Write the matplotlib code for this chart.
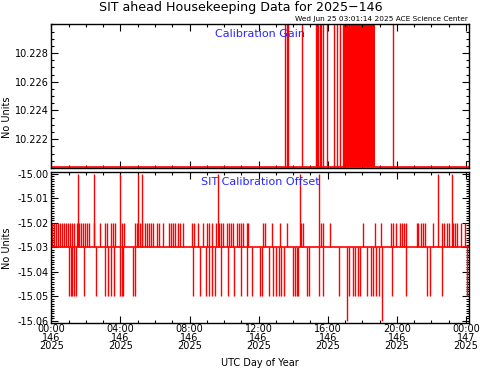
import matplotlib
matplotlib.use('Agg')
import matplotlib.pyplot as plt
from matplotlib.ticker import MultipleLocator, FixedLocator

plt.rcParams['font.family'] = ['DejaVu Sans']

# hours of day 146 (UTC)
tick_hours = [0, 4, 8, 12, 16, 20, 24]
tick_labels = ['00:00\n146\n2025', '04:00\n146\n2025', '08:00\n146\n2025',
               '12:00\n146\n2025', '16:00\n146\n2025', '20:00\n146\n2025',
               '00:00\n147\n2025']

# Calibration gain: baseline and spikes to the high value
gain_low = 10.22004
gain_high = 10.2310
gain_spikes = [13.52, 13.62, 13.71, 14.49, 15.30, 15.38, 15.45, 15.55, 15.62,
               15.70, 15.96, 16.38, 16.55, 16.72, 16.86, 19.78]
gain_blocks = [(16.94, 18.73)]

# Calibration offset: baseline and spikes at each level
offset_base = -15.03
offset_m02 = [0.05, 0.16, 0.27, 0.38, 0.50, 0.61, 0.72, 0.84, 0.95, 1.07, 1.18,
              1.30, 1.49, 1.62, 1.74, 1.85, 1.97, 2.08, 2.20, 2.45, 2.80, 3.13,
              3.24, 3.47, 3.59, 3.70, 4.07, 4.19, 4.82, 4.94, 5.13, 5.25, 5.40,
              5.52, 5.63, 5.75, 5.90, 6.10, 6.25, 6.48, 6.83, 6.95, 7.06, 7.18,
              7.33, 7.45, 7.60, 8.12, 8.26, 8.49, 8.80, 9.00, 9.15, 9.30, 9.53,
              9.69, 9.80, 9.92, 10.15, 10.30, 10.42, 10.53, 10.73, 10.84, 10.96,
              11.07, 11.30, 11.38, 12.27, 12.39, 12.75, 13.24, 13.66, 14.47,
              14.59, 15.61, 15.74, 16.13, 18.06, 18.73, 19.08, 19.64, 19.80,
              19.95, 20.18, 20.28, 20.41, 20.53, 21.15, 21.24, 21.38, 21.49,
              21.63, 22.11, 22.61, 22.75, 22.88, 23.00, 23.27, 23.38, 23.50,
              23.69, 23.94]
offset_m05 = [1.02, 1.12, 1.22, 1.31, 1.41, 1.91, 2.57, 3.13, 3.30, 3.47, 3.63,
              3.97, 4.07, 4.17, 4.71, 4.84, 8.22, 8.59, 8.93, 9.13, 9.30, 9.47,
              9.82, 10.23, 10.59, 10.96, 11.33, 11.63, 12.06, 12.21, 12.58,
              12.85, 13.02, 13.16, 13.29, 13.45, 14.01, 14.10, 14.20, 14.30,
              14.82, 14.93, 15.49, 15.74, 16.65, 17.25, 17.44, 17.56, 17.75,
              17.87, 18.29, 18.48, 18.62, 18.79, 18.97, 19.72, 20.55, 21.74,
              21.92, 22.59, 24.05]
offset_m00 = [1.56, 2.47, 3.97, 5.04, 5.27, 9.63, 14.39, 15.49, 22.40, 23.19]
offset_m06 = [17.09, 19.14]

red = '#ff0000'
blue = '#2828ff'

fig = plt.figure(figsize=(4.81, 3.70), dpi=100)
ax1 = fig.add_axes([0.1067, 0.546, 0.868, 0.389])
ax2 = fig.add_axes([0.1067, 0.127, 0.868, 0.409])

# top panel
ax1.axhline(gain_low, color=red, lw=1.2)
ax1.vlines(gain_spikes, gain_low, gain_high, color=red, lw=1.0)
for s, e in gain_blocks:
    ax1.fill_between([s, e], gain_low, gain_high, color=red, lw=0)
ax1.set_ylim(10.21999, 10.23003)
ax1.yaxis.set_major_locator(FixedLocator([10.222, 10.224, 10.226, 10.228]))
ax1.yaxis.set_minor_locator(MultipleLocator(0.0005))
ax1.yaxis.set_major_formatter(plt.FuncFormatter(lambda v, p: '%.3f' % v))
ax1.text(0.5, 0.93, 'Calibration Gain', transform=ax1.transAxes, color=blue,
         ha='center', va='center', fontsize=8)

# bottom panel
ax2.axhline(offset_base, color=red, lw=1.2)
ax2.vlines(offset_m02, offset_base, -15.02, color=red, lw=1.0)
ax2.vlines(offset_m05, offset_base, -15.05, color=red, lw=1.0)
ax2.vlines(offset_m00, offset_base, -15.00, color=red, lw=1.0)
ax2.vlines(offset_m06, offset_base, -15.06, color=red, lw=1.0)
ax2.set_ylim(-15.0609, -14.9991)
ax2.yaxis.set_major_locator(FixedLocator([-15.06, -15.05, -15.04, -15.03,
                                          -15.02, -15.01, -15.00]))
ax2.yaxis.set_minor_locator(MultipleLocator(0.001))
ax2.yaxis.set_major_formatter(plt.FuncFormatter(lambda v, p: '%.2f' % v))
ax2.text(0.5, 0.93, 'SIT Calibration Offset', transform=ax2.transAxes,
         color=blue, ha='center', va='center', fontsize=8)

for ax in (ax1, ax2):
    ax.set_xlim(0, 24.17)
    ax.set_xticks(tick_hours)
    ax.xaxis.set_minor_locator(MultipleLocator(1))
    ax.tick_params(which='both', direction='in', top=True, right=True,
                   labelsize=7, pad=2, width=0.8)
    ax.tick_params(which='major', length=5)
    ax.tick_params(which='minor', length=2.5)
    for sp in ax.spines.values():
        sp.set_linewidth(1.0)

# y labels placed like the original
fig.text(7 / 481, 1 - 117 / 370, 'No Units', rotation=90, ha='center',
         va='center', fontsize=7)
fig.text(7 / 481, 1 - 248 / 370, 'No Units', rotation=90, ha='center',
         va='center', fontsize=7)

ax1.set_xticklabels([])
ax2.set_xticklabels(tick_labels, fontsize=7, linespacing=0.8)
ax2.tick_params(axis='x', pad=1)
ax2.set_xlabel('UTC Day of Year', fontsize=7, labelpad=5)

fig.text(0.5, 0.981, 'SIT ahead Housekeeping Data for 2025\u2212146',
         ha='center', va='center', fontsize=9.1)
fig.text(0.973, 0.949, 'Wed Jun 25 03:01:14 2025 ACE Science Center',
         ha='right', va='center', fontsize=5.3)

fig.savefig('out.png', dpi=100)
